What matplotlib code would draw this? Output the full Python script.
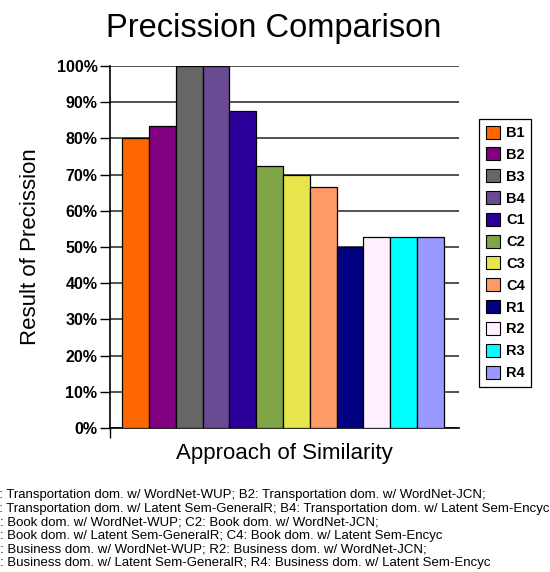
import numpy as np
import matplotlib.pyplot as plt
from matplotlib.patches import Patch
from matplotlib.ticker import PercentFormatter

plt.rcParams['font.family'] = ['Liberation Sans', 'DejaVu Sans']

# datos
labels = ["B1", "B2", "B3", "B4", "C1", "C2", "C3", "C4", "R1", "R2", "R3", "R4"]
values = [80.0, 83.3, 100.0, 100.0, 87.5, 72.5, 70.0, 66.7, 50.0, 52.8, 52.8, 52.8]
colors = ["#FF6600", "#800080", "#666666", "#6B4A94", "#290099", "#80A448",
          "#E6E64C", "#FF9966", "#000080", "#FFF0FF", "#00FFFF", "#9999FF"]
yticks = [0, 10, 20, 30, 40, 50, 60, 70, 80, 90, 100]
notes = [
    "B1: Transportation dom. w/ WordNet-WUP; B2: Transportation dom. w/ WordNet-JCN;",
    "B3: Transportation dom. w/ Latent Sem-GeneralR; B4: Transportation dom. w/ Latent Sem-Encyc",
    "C1: Book dom. w/ WordNet-WUP; C2: Book dom. w/ WordNet-JCN;",
    "C3: Book dom. w/ Latent Sem-GeneralR; C4: Book dom. w/ Latent Sem-Encyc",
    "R1: Business dom. w/ WordNet-WUP; R2: Business dom. w/ WordNet-JCN;",
    "R3: Business dom. w/ Latent Sem-GeneralR; R4: Business dom. w/ Latent Sem-Encyc",
]

fig = plt.figure(figsize=(5.5, 5.72), dpi=100)
ax = fig.add_axes([0.2, 0.2517, 0.6345, 0.6329])

x = np.arange(len(labels))
ax.bar(x, values, width=1.0, color=colors, edgecolor="black", linewidth=0.9, zorder=3)

ax.set_xlim(-0.95, 12.06)
ax.set_ylim(0, 100)
ax.set_yticks(yticks)
ax.yaxis.set_major_formatter(PercentFormatter(decimals=0))
ax.grid(axis="y", color="#444444", linewidth=1.3, zorder=0)
ax.tick_params(axis="y", direction="out", length=7, width=1, labelsize=11.5, pad=2)
for t in ax.get_yticklabels():
    t.set_fontweight("bold")
ax.set_xticks([-0.95])
ax.set_xticklabels([""])
ax.tick_params(axis="x", direction="out", length=7, width=1)

for s in ["top", "right"]:
    ax.spines[s].set_visible(False)
ax.spines["left"].set_linewidth(1.2)
ax.spines["bottom"].set_linewidth(1.2)

ax.set_ylabel("Result of Precission", fontsize=16, labelpad=11.5)
ax.set_xlabel("Approach of Similarity", fontsize=16, labelpad=0.5)
fig.text(0.497, 0.95, "Precission Comparison", fontsize=23.5, ha="center", va="center")

handles = [Patch(facecolor=c, edgecolor="black", linewidth=0.8) for c in colors]
leg = fig.legend(handles, labels, loc="upper left", bbox_to_anchor=(479 / 550, 1 - 119 / 572),
                 borderaxespad=0, handlelength=1.0, handleheight=1.0, labelspacing=0.5,
                 handletextpad=0.4, borderpad=0.45, fancybox=False, framealpha=1,
                 edgecolor="black", prop={"weight": "bold", "size": 10.5})
leg.get_frame().set_linewidth(0.9)

for i, line in enumerate(notes):
    fig.text(-17 / 550, 1 - (495 + 13.6 * i) / 572, line, fontsize=9.5, ha="left", va="center")

fig.savefig("out.png", dpi=100)
